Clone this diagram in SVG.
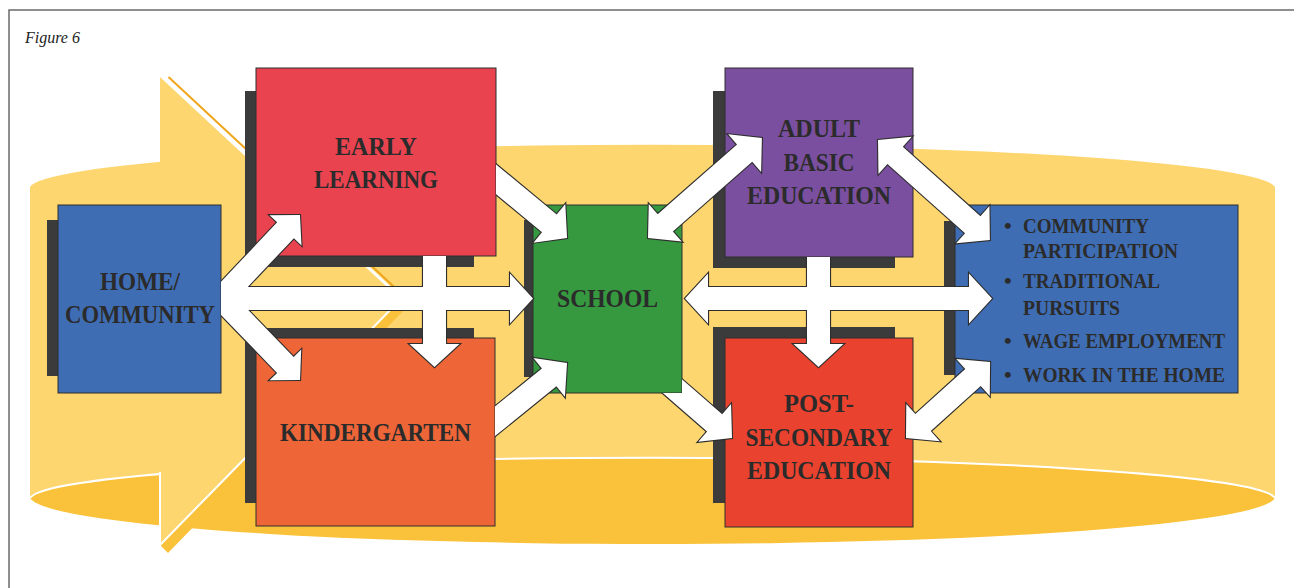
<svg xmlns="http://www.w3.org/2000/svg" xmlns:xlink="http://www.w3.org/1999/xlink" width="1294" height="588" viewBox="0 0 1294 588">
  <style>
    .frame { stroke: #6a6a6a; stroke-width: 1.5; fill: none; }
    .fig { font-family: "Liberation Serif", "Times New Roman", serif; font-style: italic; font-size: 16px; fill: #222; }
    .shadow { fill: #3b3b3b; }
    .box { stroke: #2e2e2e; stroke-width: 1; }
    .lbl { font-family: "Liberation Serif", "Times New Roman", serif; font-weight: bold; font-size: 26px; fill: #2b2b2b; text-anchor: middle; }
    .lst { font-family: "Liberation Serif", "Times New Roman", serif; font-weight: bold; font-size: 22px; fill: #2b2b2b; }
    .light { fill: #fdd66f; }
    .dark { fill: #f9c23a; }
  </style>
  <defs>
    <!-- regions outside each source box, so arrow tails stop at the box edge -->
    <clipPath id="out-home"><path clip-rule="evenodd" d="M0,0H1294V588H0Z M58,205H221V393H58Z"/></clipPath>
    <clipPath id="out-early"><path clip-rule="evenodd" d="M0,0H1294V588H0Z M256,68H496V256H256Z"/></clipPath>
    <clipPath id="out-kinder"><path clip-rule="evenodd" d="M0,0H1294V588H0Z M256,338H495V526H256Z"/></clipPath>
    <clipPath id="out-school"><path clip-rule="evenodd" d="M0,0H1294V588H0Z M533,205H682V393H533Z"/></clipPath>
    <clipPath id="out-adult"><path clip-rule="evenodd" d="M0,0H1294V588H0Z M725,68H913V257H725Z"/></clipPath>

    <!-- white block arrows; drawn twice (outlined, then fill only) so crossings merge -->
    <g id="arrow-shapes">
      <g clip-path="url(#out-home)">
        <polygon transform="translate(210,298.5)" points="0,-11.5 300,-11.5 300,-25 323,0 300,25 300,11.5 0,11.5"/>
        <polygon transform="translate(210.7,309.4) rotate(-46.6)" points="0,-11.5 108.9,-11.5 108.9,-22 129.9,0 108.9,22 108.9,11.5 0,11.5"/>
        <polygon transform="translate(210.6,287.7) rotate(45.9)" points="0,-11.5 107.5,-11.5 107.5,-22 128.5,0 107.5,22 107.5,11.5 0,11.5"/>
      </g>
      <g clip-path="url(#out-early)">
        <polygon transform="translate(434.5,250) rotate(90)" points="0,-11.5 94,-11.5 94,-25 117,0 94,25 94,11.5 0,11.5"/>
        <polygon transform="translate(480,166) rotate(39.6)" points="0,-11.5 90,-11.5 90,-25 113,0 90,25 90,11.5 0,11.5"/>
      </g>
      <g clip-path="url(#out-kinder)">
        <polygon transform="translate(480,433.4) rotate(-39)" points="0,-11.5 89,-11.5 89,-25 112,0 89,25 89,11.5 0,11.5"/>
      </g>
      <g clip-path="url(#out-school)">
        <polygon transform="translate(660,375.4) rotate(41)" points="0,-11.5 72.4,-11.5 72.4,-25 95.4,0 72.4,25 72.4,11.5 0,11.5"/>
      </g>
      <g clip-path="url(#out-adult)">
        <polygon transform="translate(818.5,250) rotate(90)" points="0,-11.5 94,-11.5 94,-25 117,0 94,25 94,11.5 0,11.5"/>
      </g>
      <polygon transform="translate(648,238) rotate(-41.3)" points="0,0 23,-25 23,-11.5 128.6,-11.5 128.6,-25 151.6,0 128.6,25 128.6,11.5 23,11.5 23,25"/>
      <polygon transform="translate(685,298.5)" points="0,0 23,-25 23,-11.5 284,-11.5 284,-25 307,0 284,25 284,11.5 23,11.5 23,25"/>
      <polygon transform="translate(878,140) rotate(41.8)" points="0,0 23,-25 23,-11.5 127.1,-11.5 127.1,-25 150.1,0 127.1,25 127.1,11.5 23,11.5 23,25"/>
      <polygon transform="translate(906,438) rotate(-42.1)" points="0,0 23,-25 23,-11.5 90.3,-11.5 90.3,-25 113.3,0 90.3,25 90.3,11.5 23,11.5 23,25"/>
    </g>
  </defs>

  <rect width="1294" height="588" fill="#ffffff"/>

  <!-- page frame and caption -->
  <path class="frame" d="M9,588V10H1294"/>
  <text class="fig" x="25" y="43">Figure 6</text>

  <!-- yellow cylinder band with the large arrow head -->
  <g id="band">
    <path class="dark" d="M30,498 A623,48 0 0 0 1275,498 A623,42 0 0 0 30,498 Z"/>
    <path class="light" d="M30,498 L30,187 A623,44 0 0 1 1275,187 L1275,498 A623,42 0 0 0 30,498 Z"/>
    <path d="M30,498 A623,42 0 0 1 1275,498" fill="none" stroke="#ffffff" stroke-width="2"/>
    <polygon class="dark" points="160,545 168,553 408,306 400,300"/>
    <polygon class="light" points="160,77 400,300 160,545"/>
    <path d="M160,472 L160,545 L400,300" fill="none" stroke="#ffffff" stroke-width="2"/>
    <line x1="164" y1="77" x2="402" y2="299" stroke="#ffffff" stroke-width="3"/>
    <line x1="168.5" y1="77" x2="406" y2="298" stroke="#efa51b" stroke-width="2"/>
  </g>

  <g id="home-community">
    <rect class="shadow" x="47" y="220" width="150" height="156"/>
    <rect class="box" x="58" y="205" width="163" height="188" fill="#3f6db4"/>
    <text class="lbl" x="140" y="290" textLength="80" lengthAdjust="spacingAndGlyphs">HOME/</text>
    <text class="lbl" x="140" y="323" textLength="150" lengthAdjust="spacingAndGlyphs">COMMUNITY</text>
  </g>

  <g id="early-learning">
    <rect class="shadow" x="245" y="91" width="229" height="176"/>
    <rect class="box" x="256" y="68" width="240" height="188" fill="#ea4350"/>
    <text class="lbl" x="376" y="155" textLength="82" lengthAdjust="spacingAndGlyphs">EARLY</text>
    <text class="lbl" x="376" y="188" textLength="124" lengthAdjust="spacingAndGlyphs">LEARNING</text>
  </g>

  <g id="kindergarten">
    <rect class="shadow" x="245" y="328" width="229" height="175"/>
    <rect class="box" x="256" y="338" width="239" height="188" fill="#ee6538"/>
    <text class="lbl" x="375.5" y="441" textLength="191" lengthAdjust="spacingAndGlyphs">KINDERGARTEN</text>
  </g>

  <g id="school">
    <rect class="shadow" x="524" y="220" width="140" height="157"/>
    <rect class="box" x="533" y="205" width="149" height="188" fill="#36993f"/>
    <text class="lbl" x="607.5" y="307" textLength="101" lengthAdjust="spacingAndGlyphs">SCHOOL</text>
  </g>

  <g id="adult-basic-education">
    <rect class="shadow" x="713" y="91" width="182" height="177"/>
    <rect class="box" x="725" y="68" width="188" height="189" fill="#7a4f9f"/>
    <text class="lbl" x="819" y="137" textLength="82" lengthAdjust="spacingAndGlyphs">ADULT</text>
    <text class="lbl" x="819" y="171" textLength="71" lengthAdjust="spacingAndGlyphs">BASIC</text>
    <text class="lbl" x="819" y="204" textLength="144" lengthAdjust="spacingAndGlyphs">EDUCATION</text>
  </g>

  <g id="post-secondary-education">
    <rect class="shadow" x="713" y="327" width="182" height="176"/>
    <rect class="box" x="725" y="338" width="188" height="189" fill="#e9432f"/>
    <text class="lbl" x="819" y="412" textLength="70" lengthAdjust="spacingAndGlyphs">POST-</text>
    <text class="lbl" x="819" y="446" textLength="147" lengthAdjust="spacingAndGlyphs">SECONDARY</text>
    <text class="lbl" x="819" y="479" textLength="144" lengthAdjust="spacingAndGlyphs">EDUCATION</text>
  </g>

  <g id="outcomes">
    <rect class="shadow" x="944" y="221" width="200" height="154"/>
    <rect class="box" x="955" y="205" width="283" height="188" fill="#3f6db4"/>
    <text class="lst" y="233"><tspan x="1004">•</tspan><tspan x="1023" textLength="126" lengthAdjust="spacingAndGlyphs">COMMUNITY</tspan></text>
    <text class="lst" x="1023" y="258" textLength="155" lengthAdjust="spacingAndGlyphs">PARTICIPATION</text>
    <text class="lst" y="288"><tspan x="1004">•</tspan><tspan x="1023" textLength="137" lengthAdjust="spacingAndGlyphs">TRADITIONAL</tspan></text>
    <text class="lst" x="1023" y="315" textLength="97" lengthAdjust="spacingAndGlyphs">PURSUITS</text>
    <text class="lst" y="348"><tspan x="1004">•</tspan><tspan x="1023" textLength="202" lengthAdjust="spacingAndGlyphs">WAGE EMPLOYMENT</tspan></text>
    <text class="lst" y="382"><tspan x="1004">•</tspan><tspan x="1023" textLength="202" lengthAdjust="spacingAndGlyphs">WORK IN THE HOME</tspan></text>
  </g>

  <g id="connectors">
    <use xlink:href="#arrow-shapes" fill="#ffffff" stroke="#2e2e2e" stroke-width="2.2" stroke-linejoin="miter"/>
    <use xlink:href="#arrow-shapes" fill="#ffffff" stroke="none"/>
  </g>
</svg>
